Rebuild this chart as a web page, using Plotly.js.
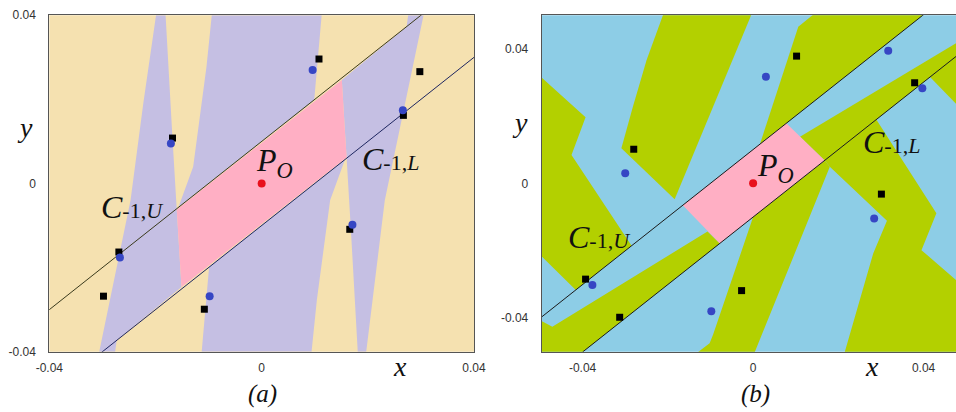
<!DOCTYPE html>
<html>
<head>
<meta charset="utf-8">
<script src="https://cdn.plot.ly/plotly-3.0.1.min.js"></script>
<style>html,body{margin:0;padding:0;background:#fff;}#chart{width:956px;height:412px;}</style>
</head>
<body>
<div id="chart"></div>
<script>
// ---------- tick labels ----------
const tickVals = [-0.04, 0, 0.04];
const tickText = ['-0.04', '0', '0.04'];

// ---------- panel (a) regions (purple over tan) ----------
const aSpikeLeftX = [-0.0199, -0.0181, -0.0168, -0.0160, -0.0151, -0.0273, -0.0276, -0.0306, -0.0247, -0.0223];
const aSpikeLeftY = [0.0400, 0.0400, 0.0108, -0.0062, -0.0246, -0.0373, -0.0400, -0.0400, -0.0040, 0.0190];
const aUpperWedgeX = [-0.0094, 0.0113, 0.0099, -0.0157, -0.0129, -0.0104];
const aUpperWedgeY = [0.0400, 0.0400, 0.0198, -0.0057, 0.0040, 0.0277];
const aLowerWedgeX = [0.0094, -0.0113, -0.0099, 0.0157, 0.0129, 0.0104];
const aLowerWedgeY = [-0.0400, -0.0400, -0.0198, 0.0057, -0.0040, -0.0277];
const aSpikeRightX = [0.0160, 0.0151, 0.0273, 0.0276, 0.0305, 0.0232, 0.0197, 0.0181, 0.0168];
const aSpikeRightY = [0.0062, 0.0246, 0.0373, 0.0400, 0.0400, -0.0040, -0.0400, -0.0400, -0.0108];
const aPinkX = [-0.0160, 0.0151, 0.0160, -0.0151];
const aPinkY = [-0.0062, 0.0246, 0.0062, -0.0246];
const aUpperLineX = [-0.05, 0.05];
const aUpperLineY = [-0.04, 0.06];
const aLowerLineX = [-0.05, 0.05];
const aLowerLineY = [-0.06, 0.04];
const aSquaresX = [0.0108, 0.0298, -0.0168, 0.0267, -0.0269, -0.0298, 0.0166, -0.0108];
const aSquaresY = [0.0296, 0.0266, 0.0108, 0.0162, -0.0163, -0.0268, -0.0109, -0.0299];
const aCirclesX = [0.0096, 0.0266, -0.0171, -0.0267, 0.0171, -0.0098];
const aCirclesY = [0.0270, 0.0174, 0.0095, -0.0176, -0.0098, -0.0268];

// ---------- panel (b) regions (green over blue) ----------
const bG1X = [-0.0500, -0.0393, -0.0426, -0.0285, -0.0416, -0.0500];
const bG1Y = [0.0318, 0.0196, 0.0084, -0.0185, -0.0316, -0.0212];
const bG2X = [-0.0211, -0.0004, -0.0184, -0.0309, -0.0282, -0.0250];
const bG2Y = [0.0500, 0.0500, -0.0047, 0.0104, 0.0227, 0.0365];
const bG3X = [0.0016, 0.0106, 0.0141, 0.0400];
const bG3Y = [0.0116, 0.0464, 0.0500, 0.0500];
const bG4X = [-0.0129, -0.0102, -0.0094, 0.0000, 0.0168, 0.0180, 0.0004];
const bG4Y = [-0.0500, -0.0474, -0.0449, -0.0100, 0.0068, 0.0049, -0.0500];
const bG5X = [0.0168, 0.0289, 0.0430, 0.0395, 0.0480, 0.0480, 0.0215, 0.0282, 0.0314, 0.0180];
const bG5Y = [0.0068, 0.0189, -0.0089, -0.0198, -0.0291, -0.0500, -0.0500, -0.0207, -0.0111, 0.0049];
const bG6X = [0.0415, 0.0480, 0.0480];
const bG6Y = [0.0315, 0.0380, 0.0231];
const bBandLeftX = [-0.0500, -0.0471, -0.0107, -0.0078, -0.0400, -0.0500];
const bBandLeftY = [-0.0406, -0.0425, -0.0143, -0.0178, -0.0500, -0.0500];
const bBandRightX = [0.0110, 0.0480, 0.0480, 0.0168];
const bBandRightY = [0.0138, 0.0418, 0.0380, 0.0068];
const bPinkX = [-0.0165, 0.0078, 0.0168, -0.0078];
const bPinkY = [-0.0065, 0.0178, 0.0068, -0.0178];
const bUpperLineX = [-0.06, 0.05];
const bUpperLineY = [-0.05, 0.06];
const bLowerLineX = [-0.04, 0.06];
const bLowerLineY = [-0.05, 0.05];
const bSquaresX = [-0.0280, 0.0102, 0.0379, 0.0301, -0.0027, -0.0313, -0.0393];
const bSquaresY = [0.0101, 0.0377, 0.0298, -0.0032, -0.0318, -0.0397, -0.0284];
const bCirclesX = [-0.0300, 0.0030, 0.0317, 0.0397, 0.0284, -0.0098, -0.0377];
const bCirclesY = [0.0030, 0.0316, 0.0393, 0.0282, -0.0104, -0.0379, -0.0301];

const originX = [0];
const originY = [0];

// ---------- colours ----------
const TAN = '#f5e1b0', PURPLE = '#c5bfe3', PINK = '#ffafc4';
const BLUE = '#8dcde6', GREEN = '#b3d000';

function poly(x, y, color, xa, ya) {
  return {type: 'scatter', x: x, y: y, mode: 'none', fill: 'toself', fillcolor: color,
          hoverinfo: 'skip', xaxis: xa, yaxis: ya};
}
function line(x, y, color, xa, ya) {
  return {type: 'scatter', x: x, y: y, mode: 'lines', line: {color: color, width: 1},
          hoverinfo: 'skip', xaxis: xa, yaxis: ya};
}
function pts(x, y, sym, size, color, xa, ya) {
  return {type: 'scatter', x: x, y: y, mode: 'markers', cliponaxis: false,
          marker: {symbol: sym, size: size, color: color, line: {width: 0}},
          hoverinfo: 'skip', xaxis: xa, yaxis: ya};
}

const traces = [
  poly(aSpikeLeftX, aSpikeLeftY, PURPLE, 'x', 'y'),
  poly(aUpperWedgeX, aUpperWedgeY, PURPLE, 'x', 'y'),
  poly(aLowerWedgeX, aLowerWedgeY, PURPLE, 'x', 'y'),
  poly(aSpikeRightX, aSpikeRightY, PURPLE, 'x', 'y'),
  poly(aPinkX, aPinkY, PINK, 'x', 'y'),
  line(aUpperLineX, aUpperLineY, '#3a3a1c', 'x', 'y'),
  line(aLowerLineX, aLowerLineY, '#1e2660', 'x', 'y'),
  pts(aSquaresX, aSquaresY, 'square', 7, '#000000', 'x', 'y'),
  pts(aCirclesX, aCirclesY, 'circle', 8, '#3646c4', 'x', 'y'),
  pts(originX, originY, 'circle', 8, '#e8101c', 'x', 'y'),

  poly(bG1X, bG1Y, GREEN, 'x2', 'y2'),
  poly(bG2X, bG2Y, GREEN, 'x2', 'y2'),
  poly(bG3X, bG3Y, GREEN, 'x2', 'y2'),
  poly(bG4X, bG4Y, GREEN, 'x2', 'y2'),
  poly(bG5X, bG5Y, GREEN, 'x2', 'y2'),
  poly(bG6X, bG6Y, GREEN, 'x2', 'y2'),
  poly(bBandLeftX, bBandLeftY, GREEN, 'x2', 'y2'),
  poly(bBandRightX, bBandRightY, GREEN, 'x2', 'y2'),
  poly(bPinkX, bPinkY, PINK, 'x2', 'y2'),
  line(bUpperLineX, bUpperLineY, '#1a1a1a', 'x2', 'y2'),
  line(bLowerLineX, bLowerLineY, '#1a1a1a', 'x2', 'y2'),
  pts(bSquaresX, bSquaresY, 'square', 7, '#000000', 'x2', 'y2'),
  pts(bCirclesX, bCirclesY, 'circle', 8, '#3646c4', 'x2', 'y2'),
  pts(originX, originY, 'circle', 8, '#e8101c', 'x2', 'y2')
];

const tickFont = {family: 'Liberation Sans, Arial, sans-serif', size: 12, color: '#333'};
const serif = 'Liberation Serif, Times New Roman, serif';

function xax(domain, range, mirror, anchor) {
  return {domain: domain, range: range, anchor: anchor, tickmode: 'array', tickvals: tickVals, ticktext: tickText,
          showgrid: false, zeroline: false, showline: true, mirror: mirror, linecolor: '#555', linewidth: 1,
          ticks: '', tickfont: tickFont, ticklabelstandoff: 5, fixedrange: true};
}
function yax(domain, range, mirror, anchor) {
  return {domain: domain, range: range, anchor: anchor, tickmode: 'array', tickvals: tickVals, ticktext: tickText,
          showgrid: false, zeroline: false, showline: true, mirror: mirror, linecolor: '#555', linewidth: 1,
          ticks: '', tickfont: tickFont, ticklabelstandoff: 10, fixedrange: true};
}

function cLabel(sub) {
  return '<i>C</i><span style="font-size:22px">-1,<i>' + sub + '</i></span>';
}
function ann(text, x, y, xref, yref, size) {
  return {text: text, x: x, y: y, xref: xref, yref: yref, showarrow: false,
          font: {family: serif, size: size, color: '#111'}, xanchor: 'center', yanchor: 'middle'};
}

const layout = {
  width: 956, height: 412,
  margin: {l: 0, r: 0, t: 0, b: 0},
  paper_bgcolor: '#ffffff',
  plot_bgcolor: 'rgba(0,0,0,0)',
  showlegend: false,
  xaxis: xax([0.0516, 0.4958], [-0.04, 0.04], true, 'y'),
  yaxis: yax([0.1464, 0.9629], [-0.04, 0.04], true, 'x'),
  xaxis2: xax([0.5666, 1.0], [-0.0496, 0.0476], true, 'y2'),
  yaxis2: yax([0.1464, 0.9629], [-0.0499, 0.0498], false, 'x2'),
  shapes: [
    {type: 'rect', xref: 'x domain', yref: 'y domain', x0: 0, x1: 1, y0: 0, y1: 1,
     fillcolor: TAN, line: {width: 0}, layer: 'below'},
    {type: 'rect', xref: 'x2 domain', yref: 'y2 domain', x0: 0, x1: 1, y0: 0, y1: 1,
     fillcolor: BLUE, line: {width: 0}, layer: 'below'}
  ],
  annotations: [
    ann('<i>P<sub>O</sub></i>', 0.0024, 0.0050, 'x', 'y', 32),
    ann(cLabel('L'), 0.0243, 0.0059, 'x', 'y', 32),
    ann(cLabel('U'), -0.0244, -0.0055, 'x', 'y', 32),
    ann('<i>P<sub>O</sub></i>', 0.0052, 0.0046, 'x2', 'y2', 32),
    ann(cLabel('L'), 0.0325, 0.0121, 'x2', 'y2', 32),
    ann(cLabel('U'), -0.0360, -0.0158, 'x2', 'y2', 32),
    ann('<i>x</i>', 400 / 956, 1 - 366 / 412, 'paper', 'paper', 28),
    ann('<i>y</i>', 25 / 956, 1 - 128 / 412, 'paper', 'paper', 28),
    ann('<i>(a)</i>', 262 / 956, 1 - 394 / 412, 'paper', 'paper', 25),
    ann('<i>x</i>', 872 / 956, 1 - 366 / 412, 'paper', 'paper', 28),
    ann('<i>y</i>', 520 / 956, 1 - 123 / 412, 'paper', 'paper', 28),
    ann('<i>(b)</i>', 755 / 956, 1 - 394 / 412, 'paper', 'paper', 25)
  ]
};

Plotly.newPlot('chart', traces, layout, {staticPlot: true, displayModeBar: false});
</script>
</body>
</html>
